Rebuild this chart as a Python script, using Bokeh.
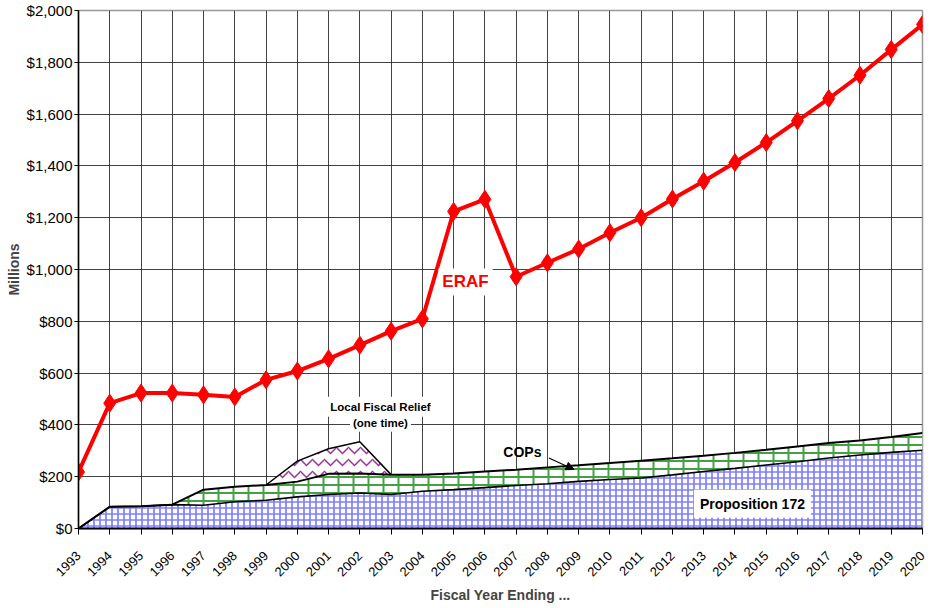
import math
import numpy as np
from bokeh.plotting import figure
from bokeh.models import Label, Arrow, NormalHead, FixedTicker, NumeralTickFormatter
from bokeh.embed import file_html
from bokeh.resources import INLINE

years = list(range(1993, 2021))
eraf = [218, 484, 523, 523, 516, 508, 574, 608, 655, 708, 762, 809, 1224, 1271,
        972, 1026, 1079, 1142, 1200, 1272, 1341, 1413, 1490, 1574, 1660, 1750, 1849, 1946]
prop172 = [0, 84, 86, 92, 90, 103, 109, 122, 131, 137, 131, 144, 150, 158,
           166, 173, 182, 189, 195, 207, 220, 232, 245, 258, 272, 284, 294, 302]
cops = [0, 0, 0, 0, 60, 58, 59, 59, 80, 75, 77, 64, 62, 62,
        61, 63, 62, 64, 67, 64, 61, 60, 59, 59, 58, 56, 59, 67]
local_relief = [0, 0, 0, 0, 0, 0, 0, 79, 97, 123, 0, 0, 0, 0,
                0, 0, 0, 0, 0, 0, 0, 0, 0, 0, 0, 0, 0, 0]
y_ticks = [0, 200, 400, 600, 800, 1000, 1200, 1400, 1600, 1800, 2000]

base = np.array(prop172, dtype=float)
top_cops = base + np.array(cops, dtype=float)
top_lfr = top_cops + np.array(local_relief, dtype=float)

FONT = "Liberation Sans"

p = figure(width=928, height=606, output_backend="svg", toolbar_location=None,
           x_range=(1993, 2020), y_range=(0, 2000),
           min_border_left=78, min_border_right=6, min_border_top=10, min_border_bottom=70)
p.background_fill_color = "white"
p.outline_line_color = "#999999"
p.outline_line_width = 1.5

# Grid
p.xgrid.ticker = FixedTicker(ticks=years)
p.ygrid.ticker = FixedTicker(ticks=y_ticks)
for g in (p.xgrid, p.ygrid):
    g.grid_line_color = "#222222"
    g.grid_line_width = 1
    g.grid_line_alpha = 0.85

# Areas
p.varea(x=years, y1=np.zeros(len(years)), y2=base, fill_color="white",
        hatch_pattern="cross", hatch_color="#8080ff", hatch_scale=6, hatch_weight=1.7)
p.varea(x=years, y1=base, y2=top_cops, fill_color="white",
        hatch_pattern="horizontal_line", hatch_color="#44a044", hatch_scale=8, hatch_weight=2)
p.varea(x=years, y1=base, y2=top_cops, fill_alpha=0,
        hatch_pattern="vertical_line", hatch_color="#44a044", hatch_scale=15, hatch_weight=2)
i0, i1 = years.index(1999), years.index(2003) + 1
p.varea(x=years[i0:i1], y1=top_cops[i0:i1], y2=top_lfr[i0:i1], fill_color="white",
        hatch_pattern="horizontal_wave", hatch_color="#a030a0", hatch_scale=12, hatch_weight=1.5)

p.line(years, base, line_color="black", line_width=1.6)
p.line(years, top_cops, line_color="black", line_width=2)
p.line(years[i0:i1], top_lfr[i0:i1], line_color="black", line_width=1.5)

# ERAF
p.line(years, eraf, line_color="#ff0000", line_width=4)
p.scatter(years, eraf, marker="diamond", size=18, fill_color="#ff0000", line_color="#ff0000")

# Axes
p.xaxis.ticker = FixedTicker(ticks=years)
p.xaxis.major_label_orientation = math.pi / 4
p.xaxis.major_label_text_font = FONT
p.xaxis.major_label_text_font_size = "13px"
p.xaxis.major_label_text_color = "black"
p.xaxis.major_label_standoff = 19
p.xaxis.major_tick_out = 6
p.xaxis.major_tick_in = 0
p.xaxis.minor_tick_line_color = None
p.xaxis.axis_line_color = "black"
p.xaxis.axis_line_width = 2
p.xaxis.axis_label = "Fiscal Year Ending ..."
p.xaxis.axis_label_text_font = FONT
p.xaxis.axis_label_text_font_style = "bold"
p.xaxis.axis_label_text_font_size = "14px"
p.xaxis.axis_label_standoff = 4

p.yaxis.ticker = FixedTicker(ticks=y_ticks)
p.yaxis.formatter = NumeralTickFormatter(format="$0,0")
p.yaxis.major_label_text_font = FONT
p.yaxis.major_label_text_font_size = "15px"
p.yaxis.major_label_text_color = "black"
p.yaxis.major_label_standoff = 2
p.yaxis.major_tick_out = 4
p.yaxis.major_tick_in = 0
p.yaxis.minor_tick_line_color = None
p.yaxis.axis_line_color = "black"
p.yaxis.axis_line_width = 1.5
p.yaxis.axis_label = "Millions"
p.yaxis.axis_label_text_font = FONT
p.yaxis.axis_label_text_font_style = "bold"
p.yaxis.axis_label_text_font_size = "14px"
p.yaxis.axis_label_standoff = 2

# Annotations
p.add_layout(Label(x=2005.38, y=952, text="ERAF", text_color="#ff0000",
                   text_font=FONT, text_font_style="bold", text_font_size="17px",
                   text_align="center", text_baseline="middle",
                   background_fill_color="white", padding=4))
p.add_layout(Label(x=2002.66, y=470, text="Local Fiscal Relief", text_color="black",
                   text_font=FONT, text_font_style="bold", text_font_size="11.5px",
                   text_align="center", text_baseline="middle",
                   background_fill_color="white", padding=4))
p.add_layout(Label(x=2002.66, y=408, text="(one time)", text_color="black",
                   text_font=FONT, text_font_style="bold", text_font_size="11.5px",
                   text_align="center", text_baseline="middle",
                   background_fill_color="white", padding=3))
p.add_layout(Label(x=2007.2, y=297, text="COPs", text_color="black",
                   text_font=FONT, text_font_style="bold", text_font_size="14px",
                   text_align="center", text_baseline="middle"))
p.add_layout(Arrow(x_start=2008.05, y_start=272, x_end=2008.85, y_end=228,
                   line_color="black", line_width=1.2,
                   end=NormalHead(size=8, fill_color="black", line_color="black")))
p.add_layout(Label(x=2014.56, y=96, text="Proposition 172", text_color="black",
                   text_font=FONT, text_font_style="bold", text_font_size="14px",
                   text_align="center", text_baseline="middle",
                   background_fill_color="white", padding=6))

open("out.html", "w").write(file_html(p, INLINE))
